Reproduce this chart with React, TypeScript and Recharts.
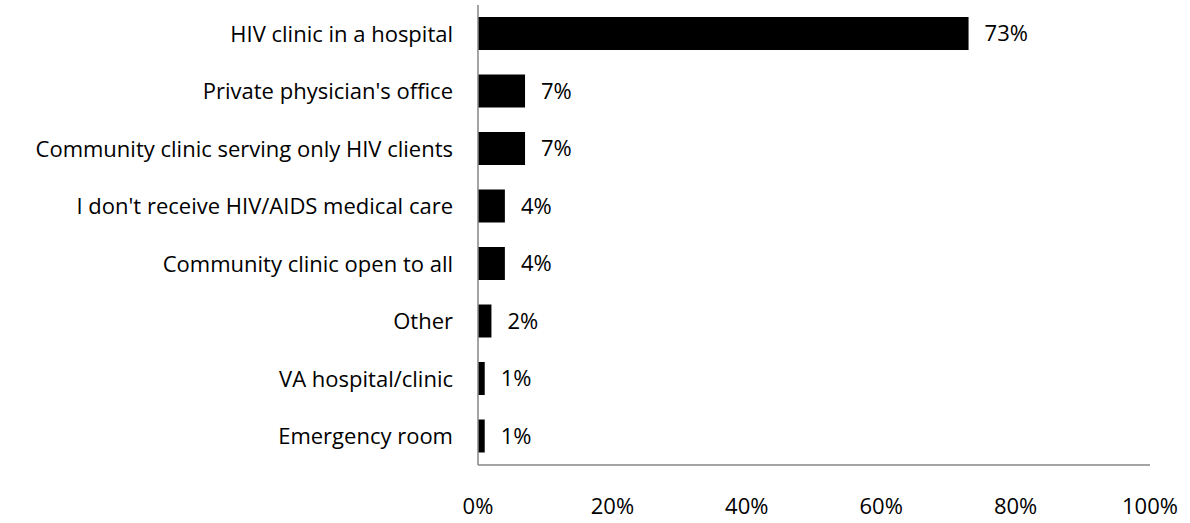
import { BarChart, Bar, XAxis, YAxis, LabelList } from 'recharts';

const categories = [
  'HIV clinic in a hospital',
  "Private physician's office",
  'Community clinic serving only HIV clients',
  "I don't receive HIV/AIDS medical care",
  'Community clinic open to all',
  'Other',
  'VA hospital/clinic',
  'Emergency room',
];
const shares = [73, 7, 7, 4, 4, 2, 1, 1];
const xTicks = [0, 20, 40, 60, 80, 100];

const data = categories.map((name, i) => ({ name, value: shares[i] }));

const FONT = "'Open Sans', sans-serif";
const FS = 22;
const pct = (v: number) => `${v}%`;

export default function App() {
  return (
    <div style={{ position: 'absolute', left: 0, top: 0, fontFamily: FONT }}>
      <BarChart
        width={1190}
        height={523}
        data={data}
        layout="vertical"
        margin={{ top: 5, right: 40, bottom: 0, left: 0 }}
      >
        <XAxis
          type="number"
          domain={[0, 100]}
          ticks={xTicks}
          tickFormatter={pct}
          height={58}
          axisLine={{ stroke: '#868686', strokeWidth: 1.5 }}
          tickLine={false}
          tickSize={0}
          tickMargin={33}
          tick={{ fill: '#000', fontSize: FS, fontFamily: FONT }}
        />
        <YAxis
          type="category"
          dataKey="name"
          width={478}
          axisLine={{ stroke: '#868686', strokeWidth: 1.5 }}
          tickLine={false}
          tickSize={0}
          tickMargin={25}
          interval={0}
          tick={{ fill: '#000', fontSize: FS, fontFamily: FONT }}
        />
        <Bar dataKey="value" fill="#000" barSize={33} isAnimationActive={false}>
          <LabelList
            dataKey="value"
            position="right"
            offset={16}
            formatter={(v: any) => pct(v)}
            style={{ fill: '#000', fontSize: FS, fontFamily: FONT }}
          />
        </Bar>
      </BarChart>
    </div>
  );
}
